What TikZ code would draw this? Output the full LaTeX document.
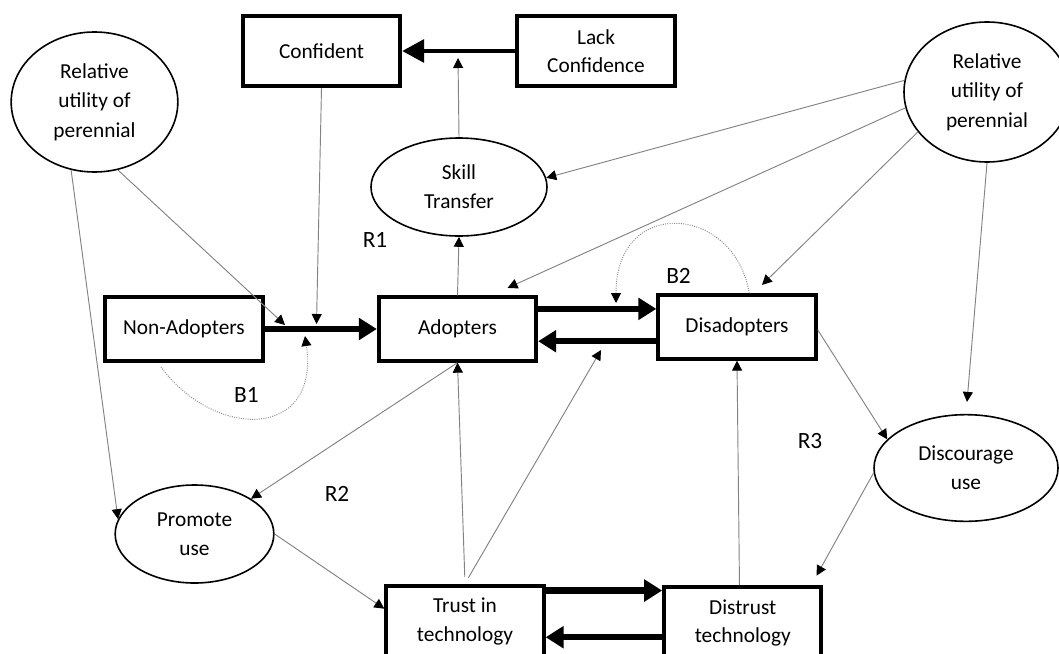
\documentclass[tikz,border=0pt]{standalone}
\usepackage{fontspec}
\setmainfont{Carlito}
\usetikzlibrary{arrows.meta,shapes.geometric}

\tikzset{every picture/.style={line width=0.75pt}}

\begin{document}
\begin{tikzpicture}[x=0.75pt,y=0.75pt,yscale=-1,xscale=1,
		stock/.style={draw, line width=3pt, minimum width=118pt, minimum height=52.5pt, inner sep=2pt, align=center, font=\fontsize{16}{21.5}\selectfont},
		aux/.style={draw, ellipse, line width=1.2pt, inner sep=0pt, align=center, font=\fontsize{16}{22}\selectfont},
		loopname/.style={font=\fontsize{17.5}{20}\selectfont},
		flow/.style={line width=4pt, -{Triangle[length=13.5pt,width=16pt]}},
		link/.style={color={rgb, 255:red, 130; green, 130; blue, 130 }, line width=0.7pt, -{Triangle[black,length=7.5pt,width=7.5pt]}},
		fb/.style={link, densely dotted}]
		%uncomment if require: \path (0,653); %set diagram left start at 0, and has height of 653
		\path[use as bounding box] (0,0) rectangle (1059,653);

		% stocks
		\node [stock] (conf) at (321.5,51) {Confident};
		\node [stock, minimum width=119pt] (lack) at (596,51) {Lack\\Confidence};
		\node [stock, minimum height=47.5pt] (nonad) at (184,329) {Non-Adopters};
		\node [stock, minimum height=47.5pt] (ad) at (457.5,329) {Adopters};
		\node [stock, minimum height=47.5pt] (disad) at (737,327) {Disadopters};
		\node [stock, minimum height=54pt] (trust) at (465,621.5) {Trust in\\technology};
		\node [stock, minimum height=54pt] (distrust) at (742.8,623) {Distrust\\technology};

		% auxiliaries
		\node [aux, minimum width=125pt, minimum height=105pt] (rul) at (94.5,102) {Relative\\utility of\\perennial};
		\node [aux, minimum width=124.5pt, minimum height=105pt] (rur) at (987,92) {Relative\\utility of\\perennial};
		\node [aux, minimum width=132pt, minimum height=73.5pt] (skill) at (459,187) {Skill\\Transfer};
		\node [aux, minimum width=119pt, minimum height=73.5pt] (promote) at (194.5,534) {Promote\\use};
		\node [aux, minimum width=138pt, minimum height=80pt] (discourage) at (966,468) {Discourage\\use};

		% loop names
		\node [loopname] (r1) at (375,240) {R1};
		\node [loopname] (b1) at (246.5,394.5) {B1};
		\node [loopname] (b2) at (678.5,276) {B2};
		\node [loopname] (r2) at (337,494) {R2};
		\node [loopname] (r3) at (810,441.5) {R3};

		% points on the flows
		\coordinate (v1) at (285,325);
		\coordinate (v2) at (316.5,324);
		\coordinate (v3) at (458,58);
		\coordinate (v4) at (616,303);
		\coordinate (v5) at (305,336);
		\coordinate (v6) at (601,350);

		% flows
		\draw [flow, -{Triangle[length=16.5pt,width=17pt]}, line width=3.2pt] (lack.west) -- (conf.east);
		\draw [flow] (nonad.east) -- (ad.west);
		\draw [flow, line width=4.6pt] (ad.14) -- (ad.14 -| disad.west);
		\draw [flow, line width=4.6pt] (disad.190) -- (disad.190 -| ad.east);
		\draw [flow, line width=4.6pt] (trust.21) -- (trust.21 -| distrust.west);
		\draw [flow, line width=4.6pt] (distrust.190) -- (distrust.190 -| trust.east);

		% links
		\draw [link] (rul.251) -- (promote.169);
		\draw [link] (rul.289) -- (v1);
		\draw [link] (conf.south) -- (v2);
		\draw [link] (skill.north) -- (v3);
		\draw [link] (ad.north) -- (skill.south);
		\draw [link] (rur.172) -- (skill.6);
		\draw [link, shorten >=13.5pt] (rur.191) -- (ad.45);
		\draw [link, shorten >=9pt] (rur.210) -- (disad.64);
		\draw [link, shorten >=9pt] (rur.south) -- (discourage.north);
		\draw [link] (ad.south) -- (promote.32);
		\draw [link] (promote.0) -- (trust.171);
		\draw [link, shorten <=5pt] (trust.north) -- (ad.south);
		\draw [link, shorten <=5pt] (trust.north) -- (v6);
		\draw [link] (disad.358) -- (discourage.160);
		\draw [link, shorten >=8pt] (discourage.183) -- (distrust.29);
		\draw [link] (distrust.95) -- (disad.south);

		% feedback loops
		\draw [fb] (disad.70) .. controls (735,205) and (616,195) .. (v4);
		\draw [fb, shorten <=4pt] (nonad.232) .. controls (215,440) and (320,440) .. (v5);

\end{tikzpicture}
\end{document}
